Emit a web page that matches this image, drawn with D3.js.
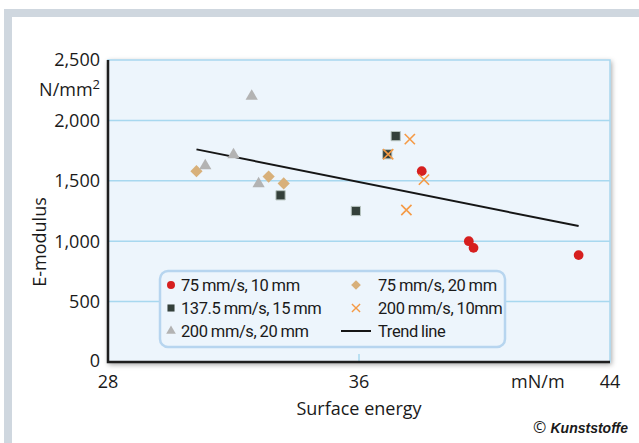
<!DOCTYPE html>
<html>
<head>
<meta charset="utf-8">
<script src="https://cdn.jsdelivr.net/npm/d3@7"></script>
<style>
  body { margin: 0; background: #fff; }
  text { font-family: "Open Sans", "Noto Sans", sans-serif; fill: #1a1a1a; }
  .legend text { font-family: Roboto, "Open Sans", sans-serif; }
</style>
</head>
<body>
<svg id="chart"></svg>
<script>
// E-modulus vs surface energy, grouped by print speed / layer setting

const xTicks = [28, 36, 44];
const yTicks = [0, 500, 1000, 1500, 2000, 2500];
const yTickLabels = ["0", "500", "1,000", "1,500", "2,000", "2,500"];

const seriesNames = ["75 mm/s, 10 mm", "137.5 mm/s, 15 mm", "200 mm/s, 20 mm",
                     "75 mm/s, 20 mm", "200 mm/s, 10mm"];

// surface energy (mN/m), E-modulus (N/mm2)
const red75_10 = [[38.0, 1580], [39.5, 1000], [39.65, 945], [43.0, 885]];
const sq137_15 = [[37.17, 1870], [36.9, 1720], [35.9, 1250], [33.5, 1380]];
const tri200_20 = [[32.58, 2200], [31.1, 1625], [32.0, 1715], [32.8, 1475]];
const dia75_20 = [[30.82, 1580], [33.12, 1535], [33.6, 1478]];
const x200_10 = [[37.62, 1845], [36.93, 1720], [38.07, 1510], [37.51, 1258]];

const trendX = [30.82, 43.0];
const trendY = [1760, 1125];

const width = 639, height = 443;
const margin = {top: 60, right: 29, bottom: 81, left: 108};
const innerW = width - margin.left - margin.right;
const innerH = height - margin.top - margin.bottom;

const svg = d3.select("#chart")
    .attr("width", width)
    .attr("height", height);

// page frame (gray strips on top and left)
svg.append("rect").attr("x", 4).attr("y", 9).attr("width", width - 4).attr("height", 8).attr("fill", "#cfd7df");
svg.append("rect").attr("x", 4).attr("y", 9).attr("width", 8).attr("height", height - 9).attr("fill", "#cfd7df");

const defs = svg.append("defs");
const filt = defs.append("filter").attr("id", "shadow")
    .attr("x", "-5%").attr("y", "-5%").attr("width", "115%").attr("height", "120%");
filt.append("feDropShadow").attr("dx", 1).attr("dy", 2).attr("stdDeviation", 2.5)
    .attr("flood-color", "#000").attr("flood-opacity", 0.35);

const x = d3.scaleLinear().domain([28, 44]).range([0, innerW]);
const y = d3.scaleLinear().domain([0, 2500]).range([innerH, 0]);

const g = svg.append("g").attr("transform", `translate(${margin.left},${margin.top})`);

// panel
g.append("rect")
    .attr("width", innerW).attr("height", innerH)
    .attr("fill", "#edf5fc")
    .attr("stroke", "#a8d6ee").attr("stroke-width", 1.5)
    .attr("filter", "url(#shadow)");

// gridlines
g.selectAll("line.grid")
  .data(yTicks.slice(1, -1))
  .join("line")
    .attr("class", "grid")
    .attr("x1", 0).attr("x2", innerW)
    .attr("y1", d => y(d)).attr("y2", d => y(d))
    .attr("stroke", "#a8d8ef").attr("stroke-width", 1.5);

// inner tick at 36
g.append("line")
    .attr("x1", x(36)).attr("x2", x(36))
    .attr("y1", innerH).attr("y2", innerH - 8)
    .attr("stroke", "#a8d8ef").attr("stroke-width", 1.5);

// axis lines (dark, left and bottom)
g.append("path")
    .attr("d", `M0,0V${innerH}H${innerW}`)
    .attr("fill", "none").attr("stroke", "#1e1e1e").attr("stroke-width", 2.5);

// y tick labels
g.selectAll("text.ytick")
  .data(yTicks)
  .join("text")
    .attr("class", "ytick")
    .attr("x", -8)
    .attr("y", (d, i) => i === 0 ? y(d) - 1 : y(d))
    .attr("dy", "0.35em")
    .attr("text-anchor", "end")
    .attr("font-size", 18)
    .text((d, i) => yTickLabels[i]);

const unitY = g.append("text")
    .attr("x", -8).attr("y", 36)
    .attr("text-anchor", "end").attr("font-size", 18);
unitY.append("tspan").text("N/mm");
unitY.append("tspan").attr("dy", -7).attr("font-size", 13).text("2");

// x tick labels
g.selectAll("text.xtick")
  .data(xTicks)
  .join("text")
    .attr("class", "xtick")
    .attr("x", d => x(d))
    .attr("y", innerH + 26)
    .attr("text-anchor", "middle")
    .attr("font-size", 18)
    .text(d => d);

g.append("text")
    .attr("x", x(41.7)).attr("y", innerH + 26)
    .attr("text-anchor", "middle").attr("font-size", 18)
    .text("mN/m");

// axis titles
svg.append("text")
    .attr("x", 359).attr("y", 415)
    .attr("text-anchor", "middle").attr("font-size", 18)
    .text("Surface energy");

svg.append("text")
    .attr("transform", "translate(46,242) rotate(-90)")
    .attr("text-anchor", "middle").attr("font-size", 18)
    .text("E-modulus");

// copyright
const copy = svg.append("text")
    .attr("x", 628).attr("y", 433)
    .attr("text-anchor", "end").attr("font-size", 14);
copy.append("tspan").attr("font-size", 16).text("© ");
copy.append("tspan").attr("font-weight", "bold").attr("font-style", "italic")
    .attr("font-family", "'Liberation Sans', Arial, sans-serif").text("Kunststoffe");

// trend line
const line = d3.line().x(d => x(d[0])).y(d => y(d[1]));
g.append("path")
    .datum(trendX.map((v, i) => [v, trendY[i]]))
    .attr("d", line)
    .attr("fill", "none").attr("stroke", "#161616").attr("stroke-width", 2);

// marker helpers
const sym = (type, size) => d3.symbol().type(type).size(size)();
const colors = {red: "#d61f1f", sq: "#34403a", tri: "#b3b3b3", dia: "#d8b07a", cross: "#f59a45"};

function drawSymbols(data, type, size, fill, stroke) {
  g.append("g").selectAll("path")
    .data(data)
    .join("path")
      .attr("transform", d => `translate(${x(d[0])},${y(d[1])})`)
      .attr("d", sym(type, size))
      .attr("fill", fill)
      .attr("stroke", stroke || "none")
      .attr("stroke-width", 1);
}

drawSymbols(dia75_20, d3.symbolDiamond2, 95, colors.dia);
drawSymbols(tri200_20, d3.symbolTriangle, 65, colors.tri);
drawSymbols(sq137_15, d3.symbolSquare, 85, colors.sq, "#b8c4c0");
drawSymbols(red75_10, d3.symbolCircle, 75, colors.red);

g.append("g").selectAll("path")
  .data(x200_10)
  .join("path")
    .attr("transform", d => `translate(${x(d[0])},${y(d[1])})`)
    .attr("d", sym(d3.symbolTimes, 70))
    .attr("fill", "none")
    .attr("stroke", colors.cross).attr("stroke-width", 1.6);

// legend
const lg = svg.append("g").attr("class", "legend").attr("transform", "translate(160,271)");
lg.append("rect")
    .attr("width", 345).attr("height", 76).attr("rx", 8)
    .attr("fill", "#edf5fc").attr("stroke", "#b7d5ef").attr("stroke-width", 2.5);

const legendItems = [
  {name: seriesNames[0], col: 0, row: 0, kind: "circle"},
  {name: seriesNames[1], col: 0, row: 1, kind: "square"},
  {name: seriesNames[2], col: 0, row: 2, kind: "triangle"},
  {name: seriesNames[3], col: 1, row: 0, kind: "diamond"},
  {name: seriesNames[4], col: 1, row: 1, kind: "cross"},
  {name: "Trend line", col: 1, row: 2, kind: "line"}
];

const item = lg.selectAll("g.item")
  .data(legendItems)
  .join("g")
    .attr("class", "item")
    .attr("transform", d => `translate(${d.col === 0 ? 11 : 196},${14 + d.row * 23})`);

item.each(function(d) {
  const s = d3.select(this);
  if (d.kind === "circle") s.append("path").attr("d", sym(d3.symbolCircle, 50)).attr("fill", colors.red);
  if (d.kind === "square") s.append("path").attr("d", sym(d3.symbolSquare, 50)).attr("fill", colors.sq);
  if (d.kind === "triangle") s.append("path").attr("d", sym(d3.symbolTriangle, 40)).attr("fill", colors.tri);
  if (d.kind === "diamond") s.append("path").attr("d", sym(d3.symbolDiamond2, 60)).attr("fill", colors.dia);
  if (d.kind === "cross") s.append("path").attr("d", sym(d3.symbolTimes, 45)).attr("fill", "none")
      .attr("stroke", colors.cross).attr("stroke-width", 1.4);
  if (d.kind === "line") s.append("line").attr("x1", -15).attr("x2", 15)
      .attr("stroke", "#161616").attr("stroke-width", 2);
});

item.append("text")
    .attr("x", d => d.col === 0 ? 10 : 22)
    .attr("dy", "0.35em")
    .attr("font-size", 16.5)
    .attr("letter-spacing", -0.4)
    .attr("word-spacing", -0.5)
    .text(d => d.name);
</script>
</body>
</html>
